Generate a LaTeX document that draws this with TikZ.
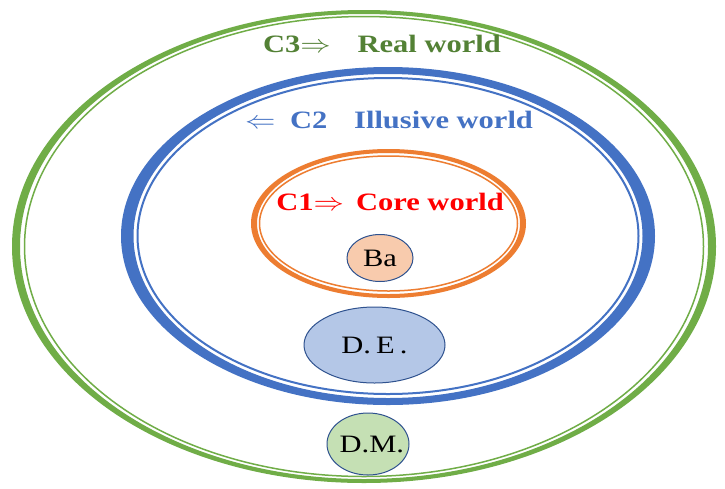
\documentclass[tikz,border=0pt]{standalone}
\usepackage{fontspec}
\setmainfont{Liberation Serif}
\usepackage{xcolor}
\usepackage{graphicx}
\usepackage{tikz}
\usetikzlibrary{shapes.geometric}

\definecolor{ringgreen}{HTML}{70AD47}
\definecolor{textgreen}{HTML}{538135}
\definecolor{ringblue}{HTML}{4472C4}
\definecolor{ringorange}{HTML}{ED7D31}
\definecolor{edgeblue}{HTML}{2F528F}

\newcommand{\wide}[1]{\scalebox{1.22}[1]{#1}}

\tikzset{
  world/.style={font=\fontsize{25}{28}\selectfont\bfseries, inner sep=0pt},
  blob/.style={ellipse, draw=edgeblue, line width=1pt, inner sep=0pt,
    font=\fontsize{25}{28}\selectfont, text=black}
}

\begin{document}
\begin{tikzpicture}[x=1pt,y=-1pt]
    \useasboundingbox (0,0) rectangle (725,488);
    \fill[white] (0,0) rectangle (725,488);

    % outer ring C3
    \fill[ringgreen, even odd rule] (364,246.5) ellipse [x radius=352, y radius=236.5]
      (364,246.5) ellipse [x radius=344, y radius=232.5];
    \draw[ringgreen, line width=1.5pt] (364,246.5) ellipse [x radius=339.5, y radius=230];

    % middle ring C2
    \fill[ringblue, even odd rule] (388,236) ellipse [x radius=267, y radius=169]
      (388,236) ellipse [x radius=254.5, y radius=162];
    \draw[ringblue, line width=2pt] (388,236) ellipse [x radius=250.5, y radius=158];

    % inner ring C1
    \fill[ringorange, even odd rule] (388.5,223.5) ellipse [x radius=137.5, y radius=74.5]
      (388.5,223.5) ellipse [x radius=131.5, y radius=70.5];
    \draw[ringorange, line width=1.5pt] (388.5,223.5) ellipse [x radius=129, y radius=67.5];

    \node[world, text=textgreen] (c3) at (382,44) {\wide{C3$\Rightarrow$\hspace{22pt}Real world}};
    \node[world, text=ringblue] (c2) at (389,120) {\wide{$\Leftarrow$\hspace{12pt}C2\hspace{22pt}Illusive world}};
    \node[world, text=red] (c1) at (390,202) {\wide{C1$\Rightarrow$\hspace{10pt}Core world}};

    \node[blob, fill={rgb,255:red,248;green,203;blue,173}, minimum width=66pt, minimum height=47pt] (ba) at (380,258) {\wide{Ba}};
    \node[blob, fill={rgb,255:red,180;green,199;blue,231}, minimum width=141pt, minimum height=76pt] (de) at (374.5,345) {\wide{D.\,E\,.}};
    \node[blob, fill={rgb,255:red,197;green,224;blue,180}, minimum width=82pt, minimum height=62pt] (dm) at (368,444) {\wide{D.M\rlap{.}}};
\end{tikzpicture}
\end{document}
